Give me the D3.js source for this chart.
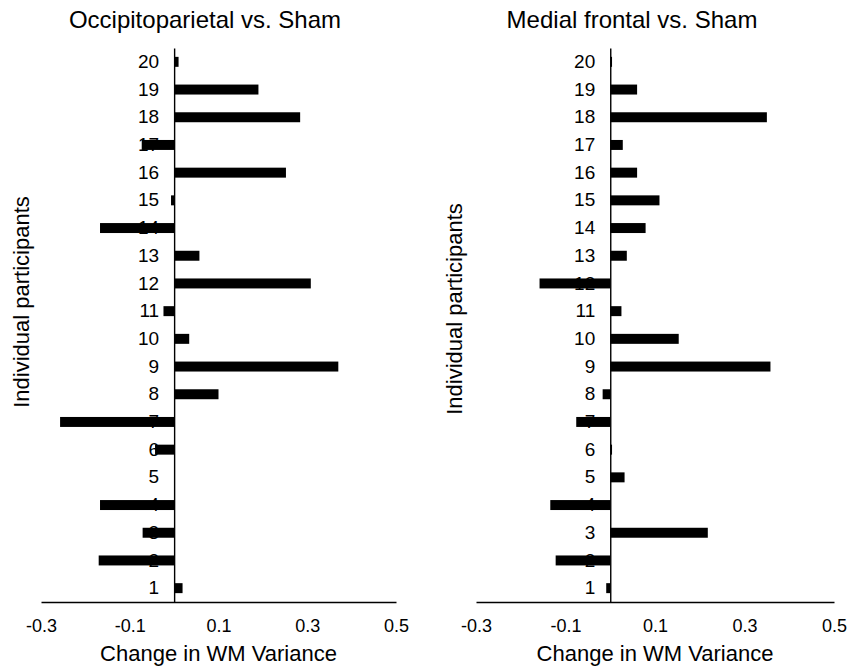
<!DOCTYPE html>
<html>
<head>
<meta charset="utf-8">
<script src="https://cdn.jsdelivr.net/npm/d3@7"></script>
<style>
  body { margin: 0; background: #fff; }
  svg { display: block; font-family: "Liberation Sans", Arial, Helvetica, sans-serif; }
</style>
</head>
<body>
<div id="chart"></div>
<script>
// participants 1..20, change in WM variance per stimulation site
var participants = d3.range(1, 21);
var occipitoparietal = [0.019, -0.170, -0.071, -0.167, 0.0, -0.043, -0.257, 0.100, 0.370, 0.034,
                        -0.024, 0.308, 0.057, -0.167, -0.007, 0.252, -0.073, 0.284, 0.190, 0.010];
var medialFrontal = [-0.009, -0.122, 0.218, -0.134, 0.032, 0.004, -0.076, -0.017, 0.358, 0.153,
                     0.025, -0.158, 0.037, 0.079, 0.110, 0.060, 0.028, 0.350, 0.060, 0.004];
var xTicks = [-0.3, -0.1, 0.1, 0.3, 0.5];
var titles = ["Occipitoparietal vs. Sham", "Medial frontal vs. Sham"];

var width = 851, height = 667;
var plotTop = 48, plotBottom = 602;

var svg = d3.select("#chart")
  .append("svg")
  .attr("width", width)
  .attr("height", height);

var panels = [
  {title: titles[0], values: occipitoparietal, range: [41, 396], titleX: 205, labelX: 28.5, labelY: 302},
  {title: titles[1], values: medialFrontal, range: [476, 834], titleX: 632, labelX: 462, labelY: 309}
];

var y = d3.scaleBand()
  .domain(participants)
  .range([plotBottom, plotTop])
  .paddingInner(0.64)
  .paddingOuter(0.32);

// plain hyphen for negatives, like the original
var fmt = function(d) { return d.toFixed(1); };

panels.forEach(function(p) {
  var x = d3.scaleLinear()
    .domain([-0.3, 0.5])
    .range(p.range);

  // title
  svg.append("text")
    .attr("x", p.titleX)
    .attr("y", 27.5)
    .attr("text-anchor", "middle")
    .style("font-size", "24px")
    .text(p.title);

  // x axis
  var xAxis = svg.append("g")
    .attr("transform", "translate(0," + plotBottom + ")")
    .call(d3.axisBottom(x).tickValues(xTicks).tickSize(0).tickPadding(17).tickFormat(fmt));
  xAxis.select(".domain").attr("stroke", "#000").attr("stroke-width", 1.4);
  xAxis.selectAll("text").style("font-size", "18px").attr("fill", "#000");

  // y axis at zero
  var yAxis = svg.append("g")
    .attr("transform", "translate(" + x(0) + ",0)")
    .call(d3.axisLeft(y).tickSize(0).tickPadding(15));
  yAxis.select(".domain").attr("stroke", "#000").attr("stroke-width", 1.4);
  yAxis.selectAll("text").style("font-size", "19px").attr("fill", "#000");

  // bars
  svg.append("g")
    .selectAll("rect")
    .data(p.values)
    .enter()
    .append("rect")
      .attr("x", function(d) { return Math.min(x(0), x(d)); })
      .attr("y", function(d, i) { return y(participants[i]); })
      .attr("width", function(d) { return Math.abs(x(d) - x(0)); })
      .attr("height", y.bandwidth())
      .attr("fill", "#000");

  // axis titles
  svg.append("text")
    .attr("x", (p.range[0] + p.range[1]) / 2)
    .attr("y", 661)
    .attr("text-anchor", "middle")
    .style("font-size", "22px")
    .text("Change in WM Variance");

  svg.append("text")
    .attr("transform", "translate(" + p.labelX + "," + p.labelY + ") rotate(-90)")
    .attr("text-anchor", "middle")
    .style("font-size", "22px")
    .text("Individual participants");
});
</script>
</body>
</html>
